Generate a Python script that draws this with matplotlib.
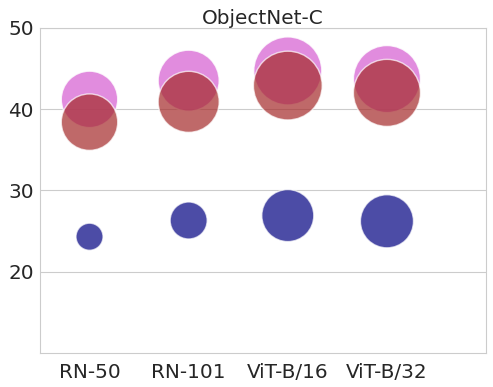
import matplotlib
matplotlib.use("Agg")
import matplotlib.pyplot as plt
import seaborn as sns

models = ["RN-50", "RN-101", "ViT-B/16", "ViT-B/32"]
top_vals = [41.2, 43.5, 44.7, 43.7]
mid_vals = [38.4, 40.9, 42.9, 42.0]
low_vals = [24.3, 26.3, 26.9, 26.2]
top_sizes = [1650, 1930, 2400, 2330]
mid_sizes = [1650, 1930, 2450, 2330]
low_sizes = [380, 710, 1400, 1460]

sns.set_style("whitegrid")
plt.rcParams['font.family'] = ['DejaVu Sans']

fig = plt.figure(figsize=(4.93, 3.87), dpi=100)
ax = fig.add_axes([0.081, 0.088, 0.905, 0.840])
x = list(range(len(models)))
ax.scatter(x, top_vals, s=top_sizes, color="orchid", alpha=0.8, edgecolors="white", linewidths=1)
ax.scatter(x, mid_vals, s=mid_sizes, color="brown", alpha=0.7, edgecolors="white", linewidths=1)
ax.scatter(x, low_vals, s=low_sizes, color="navy", alpha=0.7, edgecolors="white", linewidths=1)

ax.set_xlim(-0.5, 4.0)
ax.set_ylim(10, 50)
ax.set_yticks([20, 30, 40, 50])
ax.set_xticks(x)
ax.set_xticklabels(models)
ax.grid(axis="x", visible=False)
ax.tick_params(axis="x", labelsize=14.4, colors="#262626", pad=4)
ax.tick_params(axis="y", labelsize=14.4, colors="#262626", pad=1)
ax.set_title("ObjectNet-C", fontsize=14.4, color="#262626", pad=3)
for s in ax.spines.values():
    s.set_color("#cccccc")
fig.savefig("out.png", dpi=100)
